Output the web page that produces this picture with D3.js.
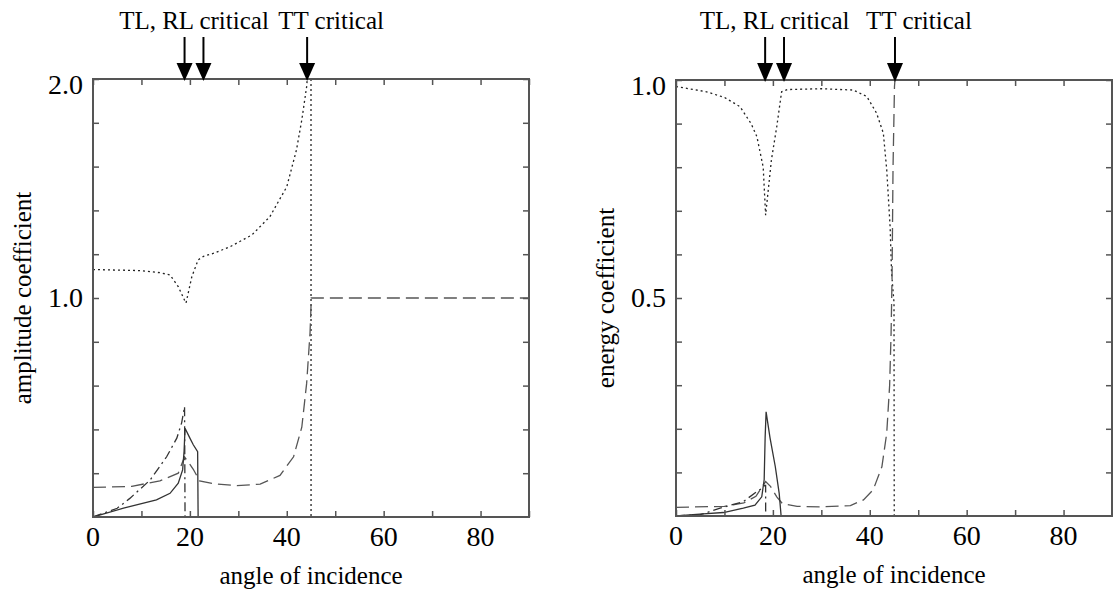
<!DOCTYPE html>
<html>
<head>
<meta charset="utf-8">
<script src="https://cdn.jsdelivr.net/npm/d3@7"></script>
<style>
  body { margin: 0; background: #fff; }
</style>
</head>
<body>
<script>
var W = 1113, H = 594,
    FONT = "'Liberation Serif', 'Times New Roman', Times, 'DejaVu Serif', serif";

// shared x axis
var angleTicks = d3.range(0, 91, 10),
    angleLabels = [0, 20, 40, 60, 80];

// amplitude panel
var ampTicks = d3.range(0.2, 2.01, 0.2),
    ampLabels = [1.0, 2.0],
    ampArrows = [18.9, 22.8, 44.2];
var ampDotted = [[0,1.13],[10,1.125],[14,1.115],[15.9,1.105],[17.6,1.052],[18.9,0.99],[19.2,0.977],[20.4,1.097],[21.7,1.174],[22.8,1.19],[25,1.205],[28.3,1.234],[32.8,1.288],[36.5,1.371],[40,1.508],[42,1.676],[43.1,1.813],[44.1,1.965],[44.6,2.1],[45.0,2.1],[45.01,0],[90,0]];
var ampDashed = [[0,0.135],[8,0.14],[13.8,0.165],[17.6,0.2],[18.9,0.275],[20.7,0.218],[22,0.165],[25,0.152],[29.7,0.143],[34.5,0.15],[38.6,0.19],[41.4,0.275],[43.1,0.41],[44.1,0.61],[44.8,0.84],[45.0,0.96],[45.05,1.0],[90,1.0]];
var ampSolid = [[0,0],[6.3,0.04],[13.1,0.078],[15.9,0.108],[17.6,0.154],[18.5,0.215],[18.8,0.3],[19.0,0.405],[20.0,0.36],[20.7,0.33],[21.6,0.298],[21.7,0],[90,0]];
var ampDashDot = [[0,0],[5,0.04],[7.6,0.085],[11.8,0.169],[15.2,0.275],[17.3,0.36],[18.3,0.43],[18.9,0.504],[19.0,0],[90,0]];

// energy panel
var enTicks = d3.range(0.1, 1.001, 0.1),
    enLabels = [0.5, 1.0],
    enArrows = [18.4, 22.3, 45.2];
var enDotted = [[0,0.985],[6.3,0.973],[10,0.96],[13.2,0.939],[15.5,0.9],[16.7,0.87],[18.0,0.8],[18.5,0.69],[19.7,0.817],[20.8,0.893],[21.8,0.973],[23,0.978],[30,0.98],[36.6,0.977],[39.4,0.962],[41.4,0.924],[42.8,0.878],[43.5,0.794],[44.2,0.663],[44.5,0.557],[45.0,0.49],[45.05,0],[90,0]];
var enDashed = [[0,0.02],[10,0.022],[14,0.03],[16.5,0.045],[18.5,0.079],[19.5,0.068],[20.8,0.044],[22,0.028],[25,0.022],[30,0.021],[36,0.024],[38.7,0.037],[40.7,0.06],[42.5,0.113],[43.5,0.19],[44.1,0.3],[44.4,0.42],[44.6,0.55],[44.8,0.8],[45.1,0.985],[45.2,1.0],[90,1.0]];
var enSolid = [[0,0],[5.6,0.005],[9.8,0.008],[13.9,0.018],[16.3,0.025],[17.7,0.044],[18.2,0.083],[18.4,0.18],[18.6,0.239],[19.4,0.18],[20.5,0.113],[21.3,0.052],[21.7,0],[90,0]];
var enDashDot = [[0,0],[5,0.003],[9.1,0.018],[13.9,0.033],[16.7,0.056],[17.7,0.063],[18.3,0.07],[18.5,0.07],[18.51,0],[90,0]];

var svg = d3.select("body").append("svg")
    .attr("width", W)
    .attr("height", H)
    .style("font-family", FONT)

var styles = {
    dotted:  { dash: "2,3",        color: "#222" },
    dashed:  { dash: "13,6",       color: "#555" },
    solid:   { dash: null,         color: "#333" },
    dashdot: { dash: "9,4,2,4",    color: "#333" }
}

function label(g, x, y, size, txt) {
    return g.append("text")
        .attr("x", x).attr("y", y)
        .attr("text-anchor", "middle")
        .style("font-family", FONT)
        .style("font-size", size + "px")
        .attr("fill", "#000")
        .text(txt)
}

function panel(id, left, right, top, bottom, yMax, yTicks, yLabels, yTitle, arrows, series) {
    var x = d3.scaleLinear().domain([0, 90]).range([left, right]),
        y = d3.scaleLinear().domain([0, yMax]).range([bottom, top]),
        g = svg.append("g")

    g.append("clipPath").attr("id", "clip" + id)
        .append("rect").attr("x", left).attr("y", top).attr("width", right - left).attr("height", bottom - top)

    var line = d3.line().x(function (d) { return x(d[0]) }).y(function (d) { return y(d[1]) })
    var curves = g.append("g").attr("clip-path", "url(#clip" + id + ")")
    series.forEach(function (s) {
        curves.append("path")
            .attr("d", line(s.data))
            .attr("fill", "none")
            .attr("stroke", styles[s.style].color)
            .attr("stroke-width", 1.3)
            .attr("stroke-dasharray", styles[s.style].dash)
    })

    // inward ticks on all four sides
    var tk = 6
    g.append("g").attr("transform", "translate(0," + bottom + ")")
        .call(d3.axisTop(x).tickValues(angleTicks).tickSize(tk).tickFormat(""))
    g.append("g").attr("transform", "translate(0," + top + ")")
        .call(d3.axisBottom(x).tickValues(angleTicks).tickSize(tk).tickFormat(""))
    g.append("g").attr("transform", "translate(" + left + ",0)")
        .call(d3.axisRight(y).tickValues(yTicks).tickSize(tk).tickFormat(""))
    g.append("g").attr("transform", "translate(" + right + ",0)")
        .call(d3.axisLeft(y).tickValues(yTicks).tickSize(tk).tickFormat(""))
    g.selectAll(".domain").remove()
    g.selectAll(".tick line").attr("stroke", "#555").attr("stroke-width", 1.5)

    g.append("rect")
        .attr("x", left).attr("y", top).attr("width", right - left).attr("height", bottom - top)
        .attr("fill", "none").attr("stroke", "#555").attr("stroke-width", 2)

    // tick labels
    angleLabels.forEach(function (d) { label(g, x(d), bottom + 29, 28, d) })
    yLabels.forEach(function (d) {
        label(g, left - 10, y(d) + (d === yMax ? 15 : 9), 28, d3.format(".1f")(d))
            .attr("text-anchor", "end")
    })

    // titles
    label(g, (left + right) / 2, bottom + 67, 25, "angle of incidence")
    label(g, 0, 0, 25, yTitle)
        .attr("transform", "translate(" + (left - 62) + "," + ((top + bottom) / 2) + ") rotate(-90)")

    // critical angle arrows
    arrows.forEach(function (a) {
        var ax = x(a)
        g.append("line").attr("x1", ax).attr("x2", ax).attr("y1", 37).attr("y2", 66)
            .attr("stroke", "#000").attr("stroke-width", 2)
        g.append("path")
            .attr("d", "M" + (ax - 8) + ",63L" + (ax + 8) + ",63L" + ax + "," + (top + 2) + "Z")
            .attr("fill", "#000")
    })
    label(g, (x(arrows[0]) + x(arrows[1])) / 2, 29, 25, "TL, RL critical")
    label(g, x(arrows[2]) + 24, 29, 25, "TT critical")
}

panel("a", 93, 529, 79, 517, 2.0, ampTicks, ampLabels, "amplitude coefficient", ampArrows, [
    { data: ampDotted, style: "dotted" },
    { data: ampDashed, style: "dashed" },
    { data: ampSolid, style: "solid" },
    { data: ampDashDot, style: "dashdot" }
])

panel("e", 676, 1112, 80, 516, 1.0, enTicks, enLabels, "energy coefficient", enArrows, [
    { data: enDotted, style: "dotted" },
    { data: enDashed, style: "dashed" },
    { data: enSolid, style: "solid" },
    { data: enDashDot, style: "dashdot" }
])
</script>
</body>
</html>
